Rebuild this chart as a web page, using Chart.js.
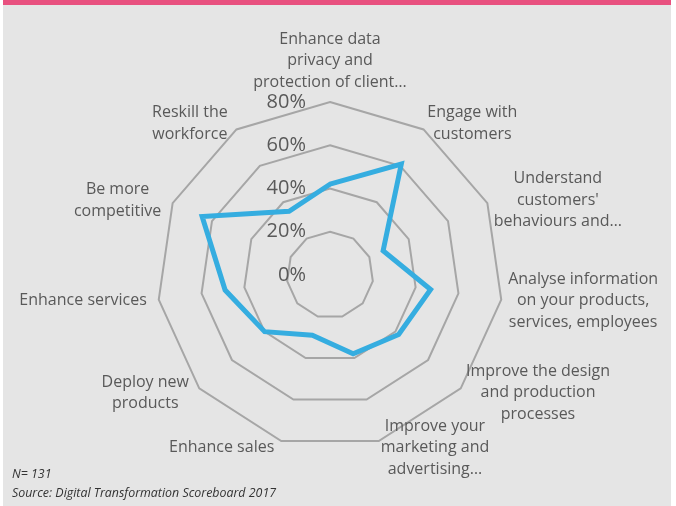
<!DOCTYPE html>
<html>
<head>
<meta charset="utf-8">
<script src="https://cdn.jsdelivr.net/npm/chart.js@4/dist/chart.umd.min.js"></script>
<style>
  html, body { margin: 0; padding: 0; background: #fff; }
  #wrap { position: relative; width: 676px; height: 506px; overflow: hidden; }
  #panel {
    position: absolute; left: 3px; top: 0; width: 668px; height: 506px;
    background: #e5e5e5; border-top: 5px solid #e8517f; box-sizing: border-box;
  }
  canvas { position: absolute; left: 0; top: 0; }
  .note { position: absolute; left: 12px; font: italic 12.4px "Open Sans"; line-height: 16px; color: #333; }
</style>
</head>
<body>
<div id="wrap">
  <div id="panel"></div>
  <canvas id="radarChart" width="676" height="506"></canvas>
  <div class="note" style="top:466px">N= 131</div>
  <div class="note" style="top:485px">Source: Digital Transformation Scoreboard 2017</div>
</div>
<script>
// categories (one array of lines per axis, clockwise from top)
const categories = [
  ["Enhance data", "privacy and", "protection of client…"],
  ["Engage with", "customers"],
  ["Understand", "customers'", "behaviours and…"],
  ["Analyse information", "on your products,", "services, employees"],
  ["Improve the design", "and production", "processes"],
  ["Improve your", "marketing and", "advertising…"],
  ["Enhance sales"],
  ["Deploy new", "products"],
  ["Enhance services"],
  ["Be more", "competitive"],
  ["Reskill the", "workforce"],
];

// share of respondents (%)
const shares = [42, 61, 27, 47, 42, 38, 29, 40, 49, 65, 35];

// tick labels of the radial axis
const tickValues = [0, 20, 40, 60, 80];

const textColor = "#595959";

// Tulisan sumbu (0% .. 80%) digambar sendiri supaya 0% ikut tampil
const tickPlugin = {
  id: "tickText",
  beforeDatasetsDraw(chart) {
    const scale = chart.scales.r;
    const ctx = chart.ctx;
    ctx.save();
    ctx.font = '20px "Open Sans"';
    ctx.fillStyle = textColor;
    ctx.textAlign = "right";
    ctx.textBaseline = "middle";
    tickValues.forEach((v) => {
      const y = scale.yCenter - scale.getDistanceFromCenterForValue(v);
      ctx.fillText(v + "%", scale.xCenter - 24, y);
    });
    ctx.restore();
  },
};

// Label kategori, baris rata tengah seperti di Excel
const labelPlugin = {
  id: "categoryText",
  afterDraw(chart) {
    const scale = chart.scales.r;
    const ctx = chart.ctx;
    const lineH = 21.5;
    ctx.save();
    ctx.font = '16px "Open Sans"';
    ctx.fillStyle = textColor;
    ctx.textAlign = "center";
    ctx.textBaseline = "middle";
    categories.forEach((lines, i) => {
      const p = scale.getPointPosition(i, scale.drawingArea + 7);
      const angle = (360 / categories.length) * i;
      const w = Math.max(...lines.map((t) => ctx.measureText(t).width));
      const h = lines.length * lineH;
      let cx;
      if (angle === 0) cx = p.x;
      else if (angle < 180) cx = p.x + w / 2;
      else cx = p.x - w / 2 - 5;
      const top = angle === 0 ? p.y - h - 2 : p.y - h / 2;
      lines.forEach((t, k) => ctx.fillText(t, cx, top + lineH * (k + 0.5)));
    });
    ctx.restore();
  },
};

new Chart(document.getElementById("radarChart").getContext("2d"), {
  type: "radar",
  data: {
    labels: categories.map((l) => l.join(" ")),
    datasets: [
      {
        data: shares,
        borderColor: "#35ade0",
        borderWidth: 5,
        backgroundColor: "transparent",
        fill: false,
        pointRadius: 0,
        tension: 0,
      },
    ],
  },
  options: {
    responsive: false,
    animation: false,
    plugins: {
      legend: { display: false },
      tooltip: { enabled: false },
    },
    scales: {
      r: {
        min: 0,
        max: 80,
        ticks: { display: false, stepSize: 20 },
        pointLabels: { display: false },
        angleLines: { display: false },
        grid: { color: "#a6a6a6", lineWidth: 2 },
        afterFit(scale) {
          scale.xCenter = 330;
          scale.yCenter = 275;
          scale.drawingArea = 173;
        },
      },
    },
  },
  plugins: [tickPlugin, labelPlugin],
});
</script>
</body>
</html>
